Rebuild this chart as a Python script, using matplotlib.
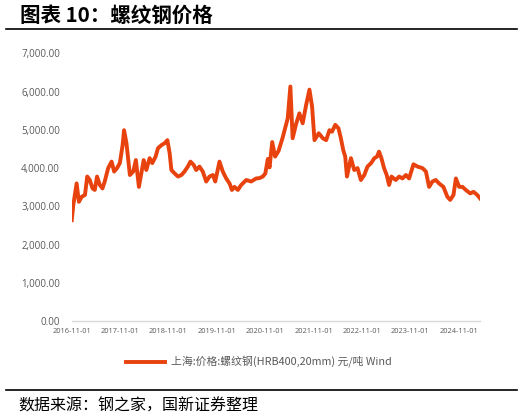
import numpy as np
import matplotlib
matplotlib.use("Agg")
import matplotlib.pyplot as plt
import matplotlib.dates as mdates
import pandas as pd
from matplotlib.lines import Line2D

plt.rcParams['font.family'] = ['Noto Sans CJK SC', 'DejaVu Sans']

# rebar price, Shanghai HRB400 20mm
dates = [
    "2016-11-01", "2016-11-13", "2016-12-08", "2016-12-25", "2017-01-15", "2017-02-09",
    "2017-02-26", "2017-03-17", "2017-04-07", "2017-04-24", "2017-05-11", "2017-06-01",
    "2017-06-21", "2017-07-08", "2017-08-03", "2017-08-29", "2017-09-17", "2017-10-09",
    "2017-10-30", "2017-11-20", "2017-12-01", "2017-12-19", "2018-01-14", "2018-02-08",
    "2018-02-28", "2018-03-23", "2018-04-15", "2018-04-28", "2018-05-18", "2018-06-12",
    "2018-07-02", "2018-07-27", "2018-08-14", "2018-09-09", "2018-10-03", "2018-10-24",
    "2018-11-10", "2018-11-23", "2018-12-18", "2019-01-12", "2019-02-07", "2019-03-02",
    "2019-03-27", "2019-04-16", "2019-05-11", "2019-05-29", "2019-06-23", "2019-07-18",
    "2019-08-13", "2019-09-07", "2019-10-02", "2019-10-20", "2019-11-21", "2019-12-16",
    "2020-01-11", "2020-02-05", "2020-02-23", "2020-03-13", "2020-04-08", "2020-05-03",
    "2020-06-10", "2020-07-17", "2020-08-24", "2020-09-19", "2020-10-13", "2020-11-01",
    "2020-11-20", "2020-12-03", "2020-12-23", "2021-01-14", "2021-02-09", "2021-03-12",
    "2021-04-07", "2021-04-19", "2021-05-09", "2021-05-26", "2021-06-21", "2021-07-16",
    "2021-08-10", "2021-09-05", "2021-09-30", "2021-10-20", "2021-11-07", "2021-12-09",
    "2022-01-09", "2022-02-03", "2022-02-28", "2022-03-19", "2022-04-13", "2022-05-07",
    "2022-05-25", "2022-06-12", "2022-06-27", "2022-07-10", "2022-08-09", "2022-09-03",
    "2022-09-28", "2022-10-23", "2022-11-18", "2022-12-12", "2023-01-08", "2023-02-02",
    "2023-02-22", "2023-03-09", "2023-03-27", "2023-04-16", "2023-05-06", "2023-05-24",
    "2023-06-11", "2023-07-13", "2023-08-08", "2023-09-02", "2023-09-28", "2023-10-22",
    "2023-11-24", "2023-12-24", "2024-01-31", "2024-02-26", "2024-03-21", "2024-04-15",
    "2024-05-10", "2024-06-04", "2024-07-07", "2024-08-06", "2024-08-27", "2024-09-21",
    "2024-10-09", "2024-11-03", "2024-11-28", "2024-12-23", "2025-01-25", "2025-02-19",
    "2025-03-19", "2025-04-09",
]
prices = [
    2640, 3040, 3600, 3120, 3250, 3300,
    3780, 3690, 3470, 3430, 3780, 3560,
    3470, 3650, 4000, 4170, 3910, 4000,
    4130, 4600, 4990, 4650, 3820, 3910,
    4210, 3510, 3950, 4210, 3950, 4260,
    4130, 4300, 4520, 4600, 4650, 4730,
    4390, 3950, 3860, 3780, 3820, 3910,
    4040, 4170, 4080, 3950, 4040, 3910,
    3650, 3780, 3820, 3650, 4170, 3910,
    3730, 3600, 3430, 3510, 3430, 3560,
    3690, 3650, 3730, 3740, 3780, 3860,
    4240, 4020, 4680, 4300, 4450, 4800,
    5150, 5300, 6130, 4780, 5150, 5430,
    5170, 5650, 6050, 5600, 4730, 4910,
    4780, 4730, 4990, 4950, 5130, 5040,
    4780, 4470, 4300, 3780, 4260, 3950,
    4000, 3690, 3820, 4040, 4130, 4260,
    4300, 4430, 4260, 4000, 3820, 3560,
    3780, 3690, 3780, 3730, 3820, 3730,
    4100, 4040, 4000, 3910, 3510, 3650,
    3690, 3600, 3510, 3250, 3170, 3300,
    3730, 3510, 3510, 3430, 3340, 3380,
    3300, 3210,
]

tick_dates = ["2016-11-01", "2017-11-01", "2018-11-01", "2019-11-01", "2020-11-01",
              "2021-11-01", "2022-11-01", "2023-11-01", "2024-11-01"]
y_ticks = [0, 1000, 2000, 3000, 4000, 5000, 6000, 7000]

series_label = "上海:价格:螺纹钢(HRB400,20mm) 元/吨 Wind"
title = "图表 10：螺纹钢价格"
source = "数据来源：钢之家，国新证券整理"

x = pd.to_datetime(dates)
xt = pd.to_datetime(tick_dates)

fig = plt.figure(figsize=(5.27, 4.18), dpi=100)
ax = fig.add_axes([0.1361, 0.2313, 0.7747, 0.6414])

line_color = "#E8420F"
grey = "#595959"

ax.plot(x, prices, color=line_color, lw=2.8, solid_joinstyle="round",
        label=series_label)

ax.set_xlim(x[0], x[-1])
ax.set_ylim(0, 7000)
ax.set_yticks(y_ticks)
ax.set_yticklabels(["{:,.2f}".format(v) for v in y_ticks])
ax.set_xticks(xt)
ax.set_xticklabels(tick_dates)

for s in ["top", "right", "left"]:
    ax.spines[s].set_visible(False)
ax.spines["bottom"].set_color("#d9d9d9")
ax.spines["bottom"].set_linewidth(1.0)

ax.tick_params(axis="y", length=0, pad=8.5, labelsize=7, labelcolor=grey)
ax.tick_params(axis="x", length=0, pad=5, labelsize=5.3, labelcolor=grey)
for t in ax.get_yticklabels() + ax.get_xticklabels():
    t.set_family(["Open Sans", "DejaVu Sans"])

fig.legend(loc="center", bbox_to_anchor=(0.4915, 0.134), frameon=False,
           fontsize=7.8, handlelength=3.6, handletextpad=0.5, labelcolor=grey)

fig.text(0.038, 0.964, title, fontsize=14.8, fontweight="bold", va="center",
         ha="left", color="black")
fig.add_artist(Line2D([6 / 527, 517 / 527], [1 - 29 / 418] * 2, color="black",
                      lw=1.2, transform=fig.transFigure))
fig.add_artist(Line2D([6 / 527, 517 / 527], [1 - 390 / 418] * 2, color="black",
                      lw=1.2, transform=fig.transFigure))
fig.text(0.034, 0.029, source, fontsize=11.5, va="center", ha="left", color="black")

fig.savefig("out.png", dpi=100)
